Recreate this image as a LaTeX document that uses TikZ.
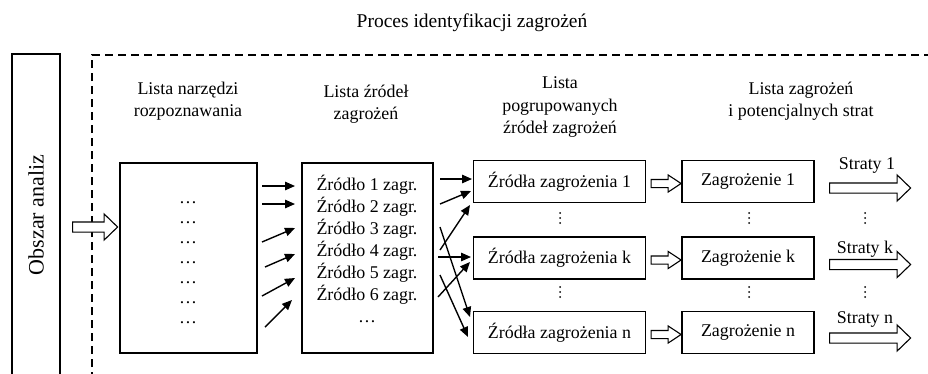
\documentclass[tikz,border=0pt]{standalone}
\usepackage{fontspec}
\setmainfont{Liberation Serif}
\usetikzlibrary{arrows.meta,shapes.arrows}
\begin{document}
\begin{tikzpicture}[x=1pt,y=-1pt,
  every node/.style={font=\fontsize{17.9}{22}\selectfont, inner sep=0pt},
  box/.style={draw, line width=1.3pt, fill=white},
  arr/.style={-{Triangle[length=10pt,width=8.5pt]}, line width=1.4pt},
  frame/.style={dash pattern=on 8pt off 5pt, line width=1.2pt},
  hollow/.style={single arrow, draw, fill=white, line width=1.1pt, inner xsep=0pt},
  bigarrow/.style={hollow, inner ysep=4.5pt, single arrow head extend=8pt,
                   single arrow tip angle=88},
  smallarrow/.style={hollow, inner ysep=3.5pt, minimum height=30pt,
                     single arrow head extend=4.5pt, single arrow tip angle=67},
  vdot/.style={fill=black}
]
\useasboundingbox (0,0) rectangle (928,373);
\clip (0,0) rectangle (928,373);

% title and dashed frame of the process
\node[font=\fontsize{19.5}{24}\selectfont] (title) at (472,23) {Proces identyfikacji zagrożeń};
\coordinate (fbl) at (92,380);
\coordinate (ftr) at (935,55);
\draw[frame] (fbl) |- (ftr);

% analysed area
\node[box, minimum width=48pt, minimum height=346pt] (area) at (36,227) {};
\node[rotate=90, font=\fontsize{22}{26}\selectfont] (areatxt) at (36,215) {Obszar analiz};
\node[bigarrow, minimum height=45pt] (inarrow) at (92.5,227) {};

% column headings
\node[align=center] (h1) at (188,101) {Lista narzędzi\\rozpoznawania};
\node[align=center] (h2) at (366,104) {Lista źródeł\\zagrożeń};
\node[align=center] (h3) at (560,107) {Lista\\pogrupowanych\\źródeł zagrożeń};
\node[align=center] (h4) at (801,101) {Lista zagrożeń\\i potencjalnych strat};

% list of tools
\node[box, minimum width=137pt, minimum height=190pt] (b1) at (188.5,258) {};
\foreach \i in {0,...,6}
  \node (t\i) at (188,203+20*\i) {…};

% list of hazard sources
\node[box, minimum width=131pt, minimum height=190pt] (b2) at (367.5,258) {};
\foreach \i in {1,...,6}
  \node (s\i) at (367,185+22*\i-22) {Źródło \i{} zagr.};
\node (s7) at (367,322) {…};

% grouped sources, hazards and losses
\foreach \r/\y/\ya/\yl in {1/181.5/183.5/188, k/258/260/264.5, n/332.5/334.5/338} {
  \node[box, minimum width=172pt, minimum height=42pt] (g\r) at (559.5,\y) {Źródła zagrożenia \r};
  \node[smallarrow] (m\r) at (663,\ya) {};
  \node[box, minimum width=132pt, minimum height=42pt] (z\r) at (748,\y) {Zagrożenie \r};
  \node[bigarrow, minimum height=81pt] (l\r) at (867.5,\yl) {};
}
\node (lab1) at (867,165) {Straty 1};
\node (labk) at (865,249) {Straty k};
\node (labn) at (865,319) {Straty n};

% vertical "and so on" marks between the rows
\foreach \x/\n in {560/g, 749/z, 865/l} {
  \coordinate (\n dotsa) at (\x,218);
  \coordinate (\n dotsb) at (\x,292);
  \foreach \c in {\n dotsa, \n dotsb}
    \foreach \d in {-5,0,5}
      \fill[vdot] ([yshift=\d pt]\c) circle (1pt);
}

% tools -> sources
\foreach \i/\xa/\ya/\xb/\yb in {1/262/186/295/186, 2/262/204/295/204, 3/262/242/295/228,
                              4/265/267/295/254, 5/262/296/295/278, 6/265/327/292/300} {
  \coordinate (ta\i) at (\xa,\ya);
  \coordinate (tb\i) at (\xb,\yb);
  \draw[arr] (ta\i) -- (tb\i);
}

% sources -> groups
\foreach \i/\xa/\ya/\xb/\yb in {1/440/179/472/179, 2/440/204/471/191, 3/440/250/470/205,
                              4/438/257/471/257, 5/438/297/470/262, 6/440/227/470/317,
                              7/440/275/468/337} {
  \coordinate (sa\i) at (\xa,\ya);
  \coordinate (sb\i) at (\xb,\yb);
  \draw[arr] (sa\i) -- (sb\i);
}
\end{tikzpicture}
\end{document}
